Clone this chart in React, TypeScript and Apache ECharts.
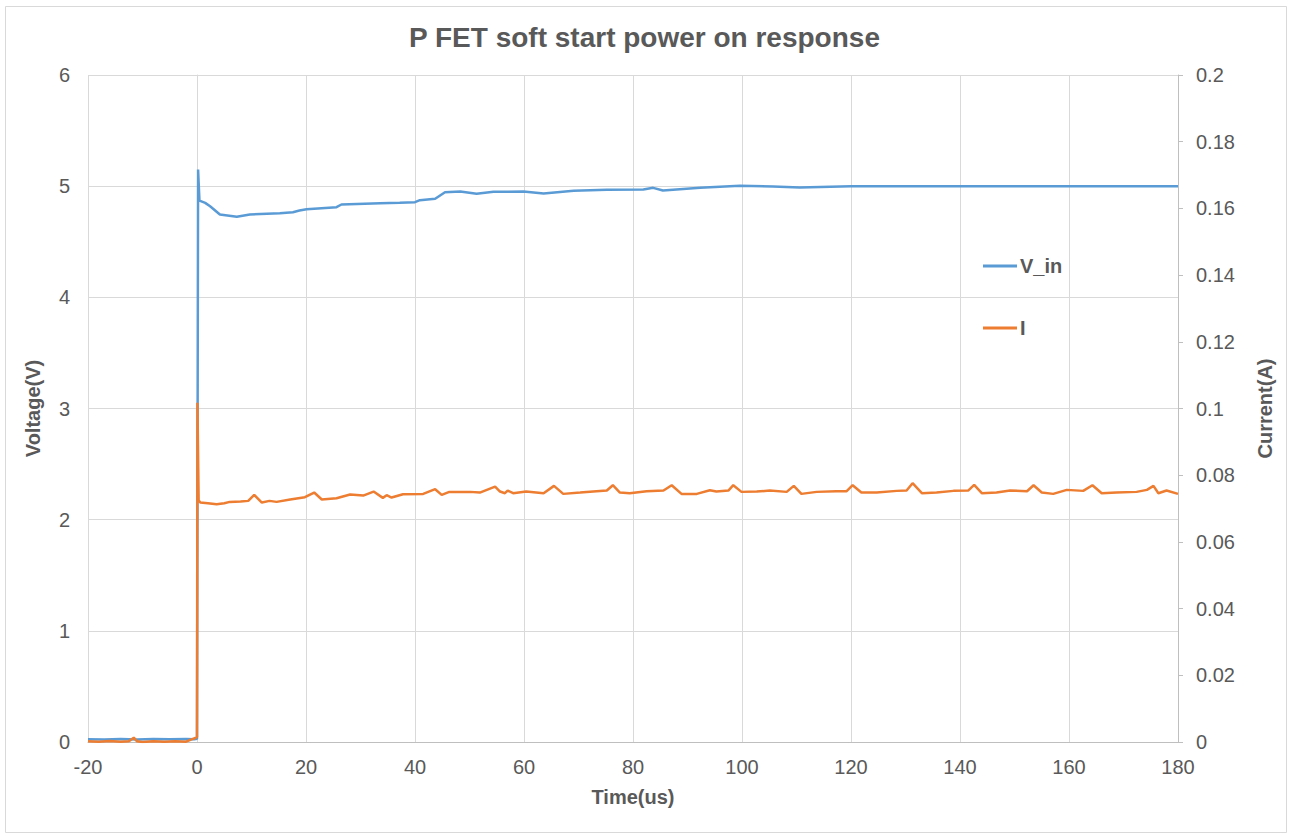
import React, { useEffect, useRef } from "react";
import * as echarts from "echarts";

// Time axis (us)
const timeTicks = { min: -20, max: 180, interval: 20 };

// Voltage trace: time (us) and V_in (V)
const vTime = [
  -20, -17, -14, -11, -8, -5, -2, -0.5, 0, 0.2, 0.45, 1.5, 2.4, 4.2, 7.3, 9.7,
  15.2, 17.6, 18.8, 20.1, 25.6, 26.5, 33.6, 37.2, 40, 40.9, 43.7, 45.5, 48.3,
  51.3, 54.4, 59.9, 63.6, 69.1, 75.2, 81.9, 83.7, 85.5, 92.3, 99.6, 105.7,
  110.6, 120, 140, 160, 180,
];
const vIn = [
  0.025, 0.022, 0.027, 0.023, 0.026, 0.024, 0.028, 0.025, 0.03, 5.15, 4.87,
  4.85, 4.82, 4.745, 4.724, 4.745, 4.757, 4.766, 4.781, 4.793, 4.811, 4.835,
  4.847, 4.85, 4.856, 4.874, 4.886, 4.946, 4.952, 4.931, 4.949, 4.952, 4.934,
  4.958, 4.967, 4.97, 4.985, 4.961, 4.985, 5.003, 4.997, 4.988, 5.0, 5.0, 5.0,
  5.0,
];

// Current trace: time (us) and I (A)
const iTime = [
  -20, -18, -16, -14, -12.5, -11.6, -11, -10, -8, -6, -4, -2, -1, -0.3, 0,
  0.08, 0.3, 0.6, 2, 3.6, 5, 6, 8, 9.4, 10.5, 11.9, 13.3, 14.6, 17.1, 19.8,
  21.5, 22.9, 25.6, 28.1, 30.5, 32.4, 34.1, 34.8, 35.7, 37.8, 41.5, 43.7, 44.9,
  46.3, 50.1, 51.9, 54.7, 55.6, 56.5, 57, 58, 60.4, 63.6, 65.5, 67.2, 70.3,
  73.3, 75.2, 76.3, 77.6, 79.4, 82.5, 85.6, 87.1, 88.9, 91.7, 94.1, 95.3, 97.5,
  98.4, 99.9, 102.7, 105.1, 108.2, 109.5, 110.9, 113.7, 117.3, 119.2, 120.3,
  121.9, 124.7, 128.4, 130.2, 131.3, 133, 135.7, 138.8, 141.5, 142.6, 144,
  146.7, 149.2, 152.3, 153.5, 155, 157.1, 159.6, 162.6, 164.3, 166, 168.7,
  172.4, 174.3, 175.5, 176.4, 177.9, 180,
];
const iVals = [
  0.0002, 0.0001, 0.0003, 0.0001, 0.0002, 0.0013, 0.0002, 0.0, 0.0002, 0.0001,
  0.0002, 0.0001, 0.0008, 0.0012, 0.0015, 0.1017, 0.0725, 0.0718, 0.0716,
  0.0713, 0.0716, 0.072, 0.0721, 0.0723, 0.0741, 0.0718, 0.0723, 0.072,
  0.0727, 0.0734, 0.0748, 0.0727, 0.0731, 0.0742, 0.0739, 0.0751, 0.0732,
  0.074, 0.0733, 0.0743, 0.0744, 0.0758, 0.0741, 0.075, 0.075, 0.0748, 0.0766,
  0.0751, 0.0746, 0.0754, 0.0746, 0.0751, 0.0746, 0.0768, 0.0744, 0.0748,
  0.0752, 0.0754, 0.077, 0.0748, 0.0746, 0.0752, 0.0754, 0.077, 0.0744,
  0.0744, 0.0755, 0.0751, 0.0754, 0.077, 0.075, 0.0751, 0.0754, 0.075, 0.0768,
  0.0744, 0.075, 0.0752, 0.0752, 0.077, 0.0748, 0.0748, 0.0753, 0.0754,
  0.0776, 0.0746, 0.0748, 0.0753, 0.0754, 0.0771, 0.0746, 0.0748, 0.0754,
  0.0752, 0.077, 0.0748, 0.0744, 0.0756, 0.0753, 0.077, 0.0746, 0.0748, 0.075,
  0.0756, 0.0768, 0.0746, 0.0754, 0.0744,
];

const FONT = "'Liberation Sans', Arial, sans-serif";
const TEXT = "#595959";
const GRID = "#d9d9d9";
const BLUE = "#5b9bd5";
const ORANGE = "#ed7d31";
const LABEL_SIZE = 20;

const nameStyle = { fontFamily: FONT, fontSize: LABEL_SIZE, fontWeight: "bold", color: TEXT };
const tickStyle = { fontFamily: FONT, fontSize: LABEL_SIZE, color: TEXT };

export default function App() {
  const ref = useRef<HTMLDivElement>(null);

  useEffect(() => {
    if (!ref.current) return;
    const chart = echarts.init(ref.current, undefined, { renderer: "svg" });

    const vData = vTime.map((t, k) => [t, vIn[k]]);
    const iData = iTime.map((t, k) => [t, iVals[k]]);

    chart.setOption({
      animation: false,
      backgroundColor: "#ffffff",
      textStyle: { fontFamily: FONT },
      title: {
        text: "P FET soft start power on response",
        left: "center",
        top: 18,
        textStyle: { fontFamily: FONT, fontSize: 28, fontWeight: "bold", color: TEXT },
      },
      graphic: [
        {
          type: "rect",
          shape: { x: 5.5, y: 6.5, width: 1281, height: 826 },
          style: { fill: "none", stroke: GRID, lineWidth: 1 },
          silent: true,
        },
      ],
      legend: {
        orient: "vertical",
        left: 978,
        top: 251,
        icon: "rect",
        itemWidth: 34,
        itemHeight: 3,
        itemGap: 42,
        textStyle: { ...nameStyle, padding: [0, 0, 0, -2] },
        data: ["V_in", "I"],
      },
      grid: { left: 88, right: 111, top: 75, bottom: 95 },
      xAxis: {
        type: "value",
        min: timeTicks.min,
        max: timeTicks.max,
        interval: timeTicks.interval,
        name: "Time(us)",
        nameLocation: "middle",
        nameGap: 45,
        nameTextStyle: nameStyle,
        axisLine: { show: true, onZero: false, lineStyle: { color: "#bfbfbf", width: 1 } },
        axisTick: { show: false },
        axisLabel: { ...tickStyle, margin: 15 },
        splitLine: { show: true, lineStyle: { color: GRID, width: 1 } },
      },
      yAxis: [
        {
          type: "value",
          min: 0,
          max: 6,
          interval: 1,
          name: "Voltage(V)",
          nameLocation: "middle",
          nameGap: 45,
          nameTextStyle: nameStyle,
          axisLine: { show: true, lineStyle: { color: GRID, width: 1 } },
          axisTick: { show: false },
          axisLabel: { ...tickStyle, margin: 18 },
          splitLine: { show: true, lineStyle: { color: GRID, width: 1 } },
        },
        {
          type: "value",
          min: 0,
          max: 0.2,
          interval: 0.02,
          position: "right",
          name: "Current(A)",
          nameLocation: "middle",
          nameGap: 77,
          nameRotate: 90,
          nameTextStyle: nameStyle,
          axisLine: { show: true, lineStyle: { color: "#bfbfbf", width: 1 } },
          axisTick: { show: true, inside: false, length: 5, lineStyle: { color: "#bfbfbf" } },
          axisLabel: { ...tickStyle, margin: 18 },
          splitLine: { show: false },
        },
      ],
      series: [
        {
          name: "V_in",
          type: "line",
          yAxisIndex: 0,
          data: vData,
          symbol: "none",
          showSymbol: false,
          lineStyle: { color: BLUE, width: 2.5 },
          itemStyle: { color: BLUE },
          z: 2,
        },
        {
          name: "I",
          type: "line",
          yAxisIndex: 1,
          data: iData,
          symbol: "none",
          showSymbol: false,
          lineStyle: { color: ORANGE, width: 2.5 },
          itemStyle: { color: ORANGE },
          z: 3,
        },
      ],
    });

    return () => chart.dispose();
  }, []);

  return (
    <div
      ref={ref}
      style={{ position: "fixed", left: 0, top: 0, width: 1289, height: 837, background: "#fff" }}
    />
  );
}
